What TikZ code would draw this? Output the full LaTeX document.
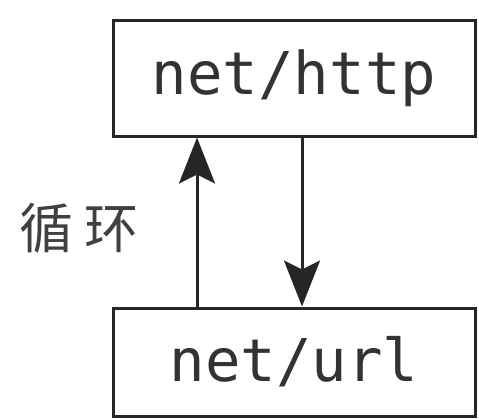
\documentclass[tikz,border=0pt]{standalone}
\usepackage{fontspec}
\setmonofont{DejaVu Sans Mono}
\newfontfamily\cjk{Noto Sans CJK SC}
\usetikzlibrary{arrows.meta}
\begin{document}
\begin{tikzpicture}[x=1pt,y=-1pt,
  pkgbox/.style={draw=black!85, line width=3pt, minimum width=362pt, inner sep=0pt,
    font=\fontsize{59}{61}\selectfont\ttfamily, text=black!80},
  flow/.style={line width=3pt, draw=black!85, -{Stealth[length=46pt,width=36pt,inset=9pt]}}]
\useasboundingbox (0,0) rectangle (479,418);
\node[pkgbox, minimum height=116pt] (http) at (294,78) {net/http};
\node[pkgbox, minimum height=108pt] (url) at (294,362) {net/url};
\draw[flow] ([xshift=-97pt]url.north) -- ([xshift=-97pt]http.south);
\draw[flow] ([xshift=8pt]http.south) -- ([xshift=8pt]url.north);
\node[font=\fontsize{54}{56}\selectfont\cjk, text=black!75] (loop) at (79,228) {循\hspace{12pt}环};
\end{tikzpicture}
\end{document}
